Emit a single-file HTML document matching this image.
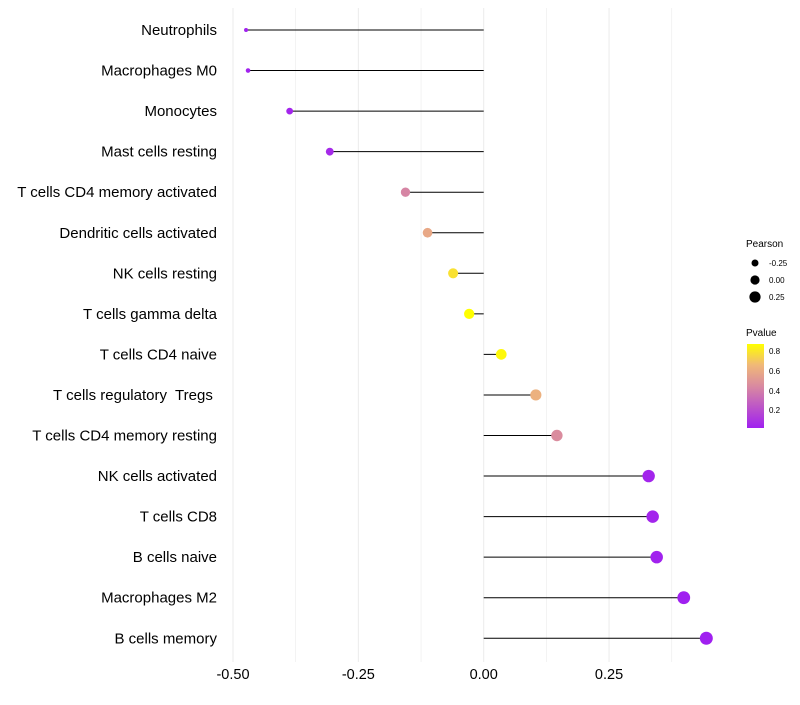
<!DOCTYPE html>
<html><head><meta charset="utf-8"><style>
body{margin:0;background:#fff}
text{font-family:"Liberation Sans",sans-serif}
#ylab text{white-space:pre}
</style></head><body>
<svg id="chart" width="800" height="700">
<defs><linearGradient id="pg" x1="0" y1="1" x2="0" y2="0">
<stop offset="0" stop-color="#a020f0"/><stop offset="0.5" stop-color="#d98aa0"/><stop offset="0.75" stop-color="#f0b878"/><stop offset="1" stop-color="#ffff00"/>
</linearGradient></defs>
<g id="grid"></g><g id="marks"></g><g id="ylab"></g><g id="xlab"></g>
<g>
<text x="746" y="247" font-size="10">Pearson</text>
<circle cx="755" cy="263" r="3.5" fill="#000"/>
<text x="769" y="266" font-size="8">-0.25</text>
<circle cx="755" cy="280" r="4.6" fill="#000"/>
<text x="769" y="283" font-size="8">0.00</text>
<circle cx="755" cy="297" r="5.6" fill="#000"/>
<text x="769" y="300" font-size="8">0.25</text>
<text x="746" y="336" font-size="10">Pvalue</text>
<rect x="747" y="344" width="17" height="84" fill="url(#pg)"/>
<text x="769" y="354" font-size="8">0.8</text>
<text x="769" y="374" font-size="8">0.6</text>
<text x="769" y="394" font-size="8">0.4</text>
<text x="769" y="413" font-size="8">0.2</text>
</g>
</svg>
<script>
const cells=["Neutrophils","Macrophages M0","Monocytes","Mast cells resting","T cells CD4 memory activated","Dendritic cells activated","NK cells resting","T cells gamma delta","T cells CD4 naive","T cells regulatory  Tregs ","T cells CD4 memory resting","NK cells activated","T cells CD8","B cells naive","Macrophages M2","B cells memory"];
const pearson=[-0.474,-0.470,-0.387,-0.307,-0.156,-0.112,-0.061,-0.029,0.035,0.104,0.146,0.329,0.337,0.345,0.399,0.444];
const pvalue=[0.02,0.02,0.03,0.05,0.42,0.58,0.78,0.88,0.85,0.62,0.45,0.03,0.03,0.02,0.01,0.01];
const xTicks=[-0.5,-0.25,0,0.25];
const xTickLabels=["-0.50","-0.25","0.00","0.25"];
const NS="http://www.w3.org/2000/svg";
const x=v=>483.7+v*501.4, y=i=>30+i*40.55;
const r=v=>2+4.5*Math.sqrt(Math.max(0,(v+0.474)/0.918));
function lerp(a,b,t){return a.map((c,k)=>Math.round(c+(b[k]-c)*t));}
function col(p){const t=Math.min(1,Math.max(0,(p-0.01)/0.86));
const st=[[0,[160,32,240]],[0.5,[217,138,160]],[0.75,[240,184,120]],[1,[255,255,0]]];
for(let i=1;i<st.length;i++)if(t<=st[i][0]){const a=st[i-1],b=st[i];const c=lerp(a[1],b[1],(t-a[0])/(b[0]-a[0]));return `rgb(${c})`;}return "rgb(255,255,0)";}
function mk(tag,attrs,parent){const e=document.createElementNS(NS,tag);for(const k in attrs)e.setAttribute(k,attrs[k]);parent.appendChild(e);return e;}
const grid=document.getElementById('grid'),marks=document.getElementById('marks'),ylab=document.getElementById('ylab'),xlab=document.getElementById('xlab');
for(let v=-0.5;v<=0.376;v+=0.125){const g=mk('line',{x1:x(v),x2:x(v),y1:8,y2:662,stroke:'#ebebeb','stroke-width':Math.abs(v*4-Math.round(v*4))<1e-6?1:0.6},grid);

}
xTicks.forEach((v,i)=>{const t=mk('text',{x:x(v),y:679,'text-anchor':'middle','font-size':14.5,fill:'#000'},xlab);t.textContent=xTickLabels[i];

});
cells.forEach((c,i)=>{
const t=mk('text',{x:217,y:y(i)+5,'text-anchor':'end','font-size':15,fill:'#000'},ylab);t.textContent=c;


const l=mk('line',{x1:x(0),x2:x(pearson[i]),y1:y(i),y2:y(i),stroke:'#000','stroke-width':1},marks);


const d=mk('circle',{cx:x(pearson[i]),cy:y(i),r:r(pearson[i]),fill:col(pvalue[i])},marks);


});
</script>
</body></html>
